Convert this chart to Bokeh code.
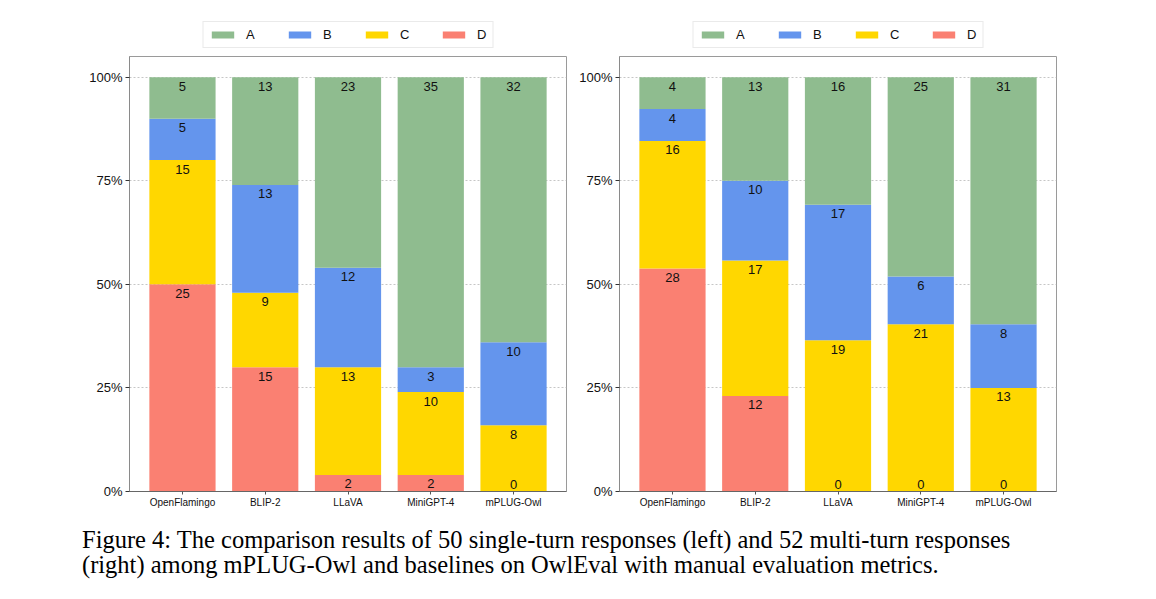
from bokeh.plotting import figure
from bokeh.models import (Range1d, FixedTicker, ColumnDataSource, Legend, LegendItem,
                          Label, NumeralTickFormatter)
from bokeh.layouts import column, row
from bokeh.core.properties import value
from bokeh.embed import file_html
from bokeh.resources import INLINE

# ---------------- data ----------------
models = ["OpenFlamingo", "BLIP-2", "LLaVA", "MiniGPT-4", "mPLUG-Owl"]
ratings = ["A", "B", "C", "D"]

single_A = [5, 13, 23, 35, 32]
single_B = [5, 13, 12, 3, 10]
single_C = [15, 9, 13, 10, 8]
single_D = [25, 15, 2, 2, 0]

multi_A = [4, 13, 16, 25, 31]
multi_B = [4, 10, 17, 6, 8]
multi_C = [16, 17, 19, 21, 13]
multi_D = [28, 12, 0, 0, 0]

y_ticks = [0, 0.25, 0.5, 0.75, 1.0]

caption_lines = [
    "Figure 4:  The comparison results of 50 single-turn responses (left) and 52 multi-turn responses",
    "(right) among mPLUG-Owl and baselines on OwlEval with manual evaluation metrics.",
]

colors = {"A": "#8FBC8F", "B": "#6495ED", "C": "#FFD700", "D": "#FA8072"}
FONT = "Liberation Sans"
FRAME_W = 437


def make_legend(left_border, right_border):
    lg = figure(frame_width=FRAME_W, frame_height=38, output_backend="svg",
                toolbar_location=None, x_range=Range1d(0, 1), y_range=Range1d(0, 1),
                x_axis_type=None, y_axis_type=None,
                min_border_left=left_border, min_border_right=right_border,
                min_border_top=10, min_border_bottom=0)
    lg.outline_line_color = None
    lg.xgrid.visible = False
    lg.ygrid.visible = False
    items = []
    for r in ratings:
        # zero-height key stub: only supplies the legend swatch style
        rend = lg.vbar(x=[0], bottom=[0], top=[0], width=0.8,
                       fill_color=colors[r], line_color=None)
        items.append(LegendItem(label=r, renderers=[rend]))
    legend = Legend(items=items, orientation="horizontal", location="bottom_center")
    legend.label_text_font = FONT
    legend.label_text_font_size = "13px"
    legend.label_text_color = "#111111"
    legend.glyph_width = 28
    legend.glyph_height = 9
    legend.label_standoff = 10
    legend.label_width = 10
    legend.label_height = 13
    legend.spacing = 29
    legend.padding = 5
    legend.margin = 0
    legend.border_line_color = "#d6d6d6"
    legend.border_line_width = 1
    legend.background_fill_color = "white"
    legend.background_fill_alpha = 1.0
    lg.add_layout(legend, "center")
    return lg


def make_panel(counts, left_border, right_border):
    n = len(models)
    xs = list(range(n))
    totals = [sum(counts[r][i] for r in ratings) for i in range(n)]

    p = figure(frame_width=FRAME_W, frame_height=435, output_backend="svg",
               toolbar_location=None,
               x_range=Range1d(-0.64, n - 1 + 0.64), y_range=Range1d(0, 1.05),
               min_border_left=left_border, min_border_right=right_border,
               min_border_top=8, min_border_bottom=25)
    p.background_fill_color = "white"
    p.border_fill_color = "white"
    p.outline_line_color = "#9a9a9a"
    p.outline_line_width = 1

    bottom = [0.0] * n
    lx, ly, lt, loff = [], [], [], []
    for r in ["D", "C", "B", "A"]:
        frac = [counts[r][i] / totals[i] for i in range(n)]
        top = [bottom[i] + frac[i] for i in range(n)]
        src = ColumnDataSource(dict(x=xs, bottom=bottom, top=top))
        p.vbar(x="x", width=0.8, bottom="bottom", top="top", source=src,
               fill_color=colors[r], line_color=None)
        for i in range(n):
            lx.append(xs[i])
            ly.append(top[i])
            lt.append(str(counts[r][i]))
            loff.append(9 if counts[r][i] > 0 else -7)
        bottom = top

    lsrc = ColumnDataSource(dict(x=lx, y=ly, t=lt, off=loff))
    p.text(x="x", y="y", text="t", y_offset="off", source=lsrc,
           text_align="center", text_baseline="middle",
           text_font=value(FONT), text_font_size="13px", text_color="#111111")

    # axes
    p.yaxis.ticker = FixedTicker(ticks=y_ticks)
    p.yaxis.formatter = NumeralTickFormatter(format="0%")
    p.yaxis.major_label_text_font = FONT
    p.yaxis.major_label_text_font_size = "13px"
    p.yaxis.major_label_text_color = "#111111"
    p.yaxis.major_tick_out = 4
    p.yaxis.major_tick_in = 0
    p.yaxis.minor_tick_out = 0
    p.yaxis.minor_tick_in = 0
    p.yaxis.major_label_standoff = 3
    p.yaxis.axis_line_color = "#8a8a8a"
    p.yaxis.major_tick_line_color = "#333333"

    p.xaxis.ticker = FixedTicker(ticks=xs)
    p.xaxis.major_label_overrides = {i: m for i, m in enumerate(models)}
    p.xaxis.major_label_text_font = FONT
    p.xaxis.major_label_text_font_size = "10px"
    p.xaxis.major_label_text_color = "#111111"
    p.xaxis.major_tick_out = 3
    p.xaxis.major_tick_in = 0
    p.xaxis.minor_tick_out = 0
    p.xaxis.minor_tick_in = 0
    p.xaxis.major_label_standoff = 2
    p.xaxis.axis_line_color = "#666666"
    p.xaxis.major_tick_line_color = "#555555"

    p.xgrid.grid_line_color = None
    p.ygrid.grid_line_color = "#b8b8b8"
    p.ygrid.grid_line_dash = "2 2"
    p.ygrid.grid_line_width = 0.8
    return p


left = make_panel({"A": single_A, "B": single_B, "C": single_C, "D": single_D},
                  left_border=129, right_border=10)
right = make_panel({"A": multi_A, "B": multi_B, "C": multi_C, "D": multi_D},
                   left_border=43, right_border=10)
leg_left = make_legend(129, 10)
leg_right = make_legend(43, 10)

cap = figure(width=1140, height=76, output_backend="svg", toolbar_location=None,
             x_range=Range1d(0, 1140), y_range=Range1d(0, 76),
             x_axis_type=None, y_axis_type=None, min_border=0)
cap.outline_line_color = None
cap.xgrid.visible = False
cap.ygrid.visible = False
for k, line in enumerate(caption_lines):
    cap.add_layout(Label(x=81.5, y=53 - 25 * k, text=line, text_font="Liberation Serif",
                         text_font_size="24.5px", text_color="#000000",
                         text_baseline="alphabetic", text_align="left"))

layout = column(row(column(leg_left, left), column(leg_right, right)), cap)
open("out.html", "w").write(file_html(layout, INLINE))
